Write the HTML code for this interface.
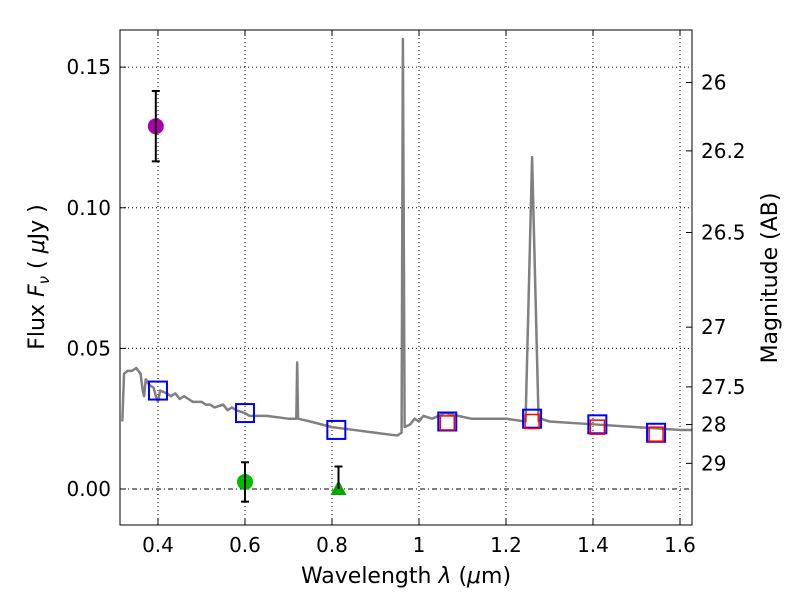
<!DOCTYPE html>
<html><head><meta charset="utf-8"><style>
body{margin:0;background:#fff;font-family:"DejaVu Sans","Liberation Sans",sans-serif}
</style></head><body>
<svg id="c" width="800" height="600" xmlns="http://www.w3.org/2000/svg" font-family="DejaVu Sans, Liberation Sans, sans-serif"></svg>
<script>
const specWave=[0.318,0.322,0.33,0.34,0.35,0.36,0.365,0.368,0.372,0.38,0.39,0.395,0.40,0.405,0.42,0.43,0.44,0.45,0.46,0.47,0.48,0.50,0.51,0.52,0.53,0.55,0.56,0.57,0.58,0.60,0.61,0.62,0.65,0.70,0.718,0.72,0.722,0.75,0.80,0.85,0.90,0.95,0.96,0.963,0.967,0.98,0.99,1.0,1.01,1.03,1.06,1.09,1.12,1.2,1.245,1.26,1.275,1.28,1.3,1.4,1.5,1.6,1.627];
const specFlux=[0.024,0.041,0.042,0.042,0.043,0.041,0.035,0.033,0.039,0.037,0.036,0.033,0.031,0.035,0.034,0.033,0.034,0.032,0.033,0.032,0.031,0.031,0.030,0.030,0.029,0.030,0.028,0.029,0.028,0.027,0.026,0.026,0.026,0.025,0.025,0.045,0.025,0.024,0.022,0.021,0.020,0.019,0.020,0.160,0.022,0.023,0.025,0.024,0.026,0.025,0.027,0.026,0.025,0.025,0.024,0.118,0.024,0.025,0.024,0.023,0.022,0.021,0.021];
const blueWave=[0.40,0.60,0.81,1.065,1.26,1.41,1.545];
const blueFlux=[0.035,0.027,0.021,0.024,0.025,0.023,0.020];
const redWave=[1.065,1.26,1.41,1.545];
const redFlux=[0.0235,0.024,0.022,0.0195];
const photWave=[0.395,0.60,0.815];
const photFlux=[0.129,0.0025,0.0];
const photErrLo=[0.0125,0.007,0.0];
const photErrHi=[0.0125,0.007,0.008];
const xTicks=[0.4,0.6,0.8,1.0,1.2,1.4,1.6];
const xTickLabels=["0.4","0.6","0.8","1","1.2","1.4","1.6"];
const yTicks=[0,0.05,0.10,0.15];
const yTickLabels=["0.00","0.05","0.10","0.15"];
const magTicks=[26,26.2,26.5,27,27.5,28,29];
const magTickLabels=["26","26.2","26.5","27","27.5","28","29"];

const L=120,R=692,T=30,B=525,xmin=0.3127,xmax=1.6276,ymin=-0.0128,ymax=0.1632;
const X=v=>L+(v-xmin)/(xmax-xmin)*(R-L);
const Y=v=>B-(v-ymin)/(ymax-ymin)*(B-T);
const NS="http://www.w3.org/2000/svg";
const svg=document.getElementById('c');
function el(tag,attrs,parent){const e=document.createElementNS(NS,tag);for(const k in attrs)e.setAttribute(k,attrs[k]);(parent||svg).appendChild(e);return e;}
xTicks.forEach((t,i)=>{
 const g=el('line',{x1:X(t),x2:X(t),y1:T,y2:B,stroke:'#000','stroke-width':1,'stroke-dasharray':'1,3'});
 
 
 el('line',{x1:X(t),x2:X(t),y1:B,y2:B-6,stroke:'#000'});
 el('line',{x1:X(t),x2:X(t),y1:T,y2:T+6,stroke:'#000'});
 const tx=el('text',{x:X(t),y:B+27,'font-size':20,'text-anchor':'middle'});tx.textContent=xTickLabels[i];
 
 
});
yTicks.forEach((t,i)=>{
 const g=el('line',{x1:L,x2:R,y1:Y(t),y2:Y(t),stroke:'#000','stroke-width':1,'stroke-dasharray':t===0?'5,3,1,3':'1,3'});
 
 
 el('line',{x1:L,x2:L+6,y1:Y(t),y2:Y(t),stroke:'#000'});
 const tx=el('text',{x:L-9,y:Y(t)+7,'font-size':20,'text-anchor':'end'});tx.textContent=yTickLabels[i];
 
 
});
magTicks.forEach((m,i)=>{
 const f=Math.pow(10,(23.9-m)/2.5);const y=Y(f);
 el('line',{x1:R,x2:R-6,y1:y,y2:y,stroke:'#000'});
 const tx=el('text',{x:R+9,y:y+7,'font-size':20});tx.textContent=magTickLabels[i];
 
 
});
const sp=el('polyline',{points:specWave.map((w,i)=>X(w)+','+Y(specFlux[i])).join(' '),fill:'none',stroke:'#808080','stroke-width':2.5,'stroke-linejoin':'round'});


blueWave.forEach((w,i)=>{
 const r=el('rect',{x:X(w)-9,y:Y(blueFlux[i])-9,width:18,height:18,fill:'none',stroke:'#0000ff','stroke-width':2});
 
 
});
redWave.forEach((w,i)=>{
 const r=el('rect',{x:X(w)-7,y:Y(redFlux[i])-7,width:14,height:14,fill:'none',stroke:'#ff0000','stroke-width':1.5});
 
 
});
const colors=['#aa00aa','#00bb00','#00aa00'];
photWave.forEach((w,i)=>{
 const x=X(w),y=Y(photFlux[i]),y1=Y(photFlux[i]+photErrHi[i]),y2=Y(photFlux[i]-photErrLo[i]);
 let m;
 if(i===2){m=el('polygon',{points:`${x},${y-9} ${x-8},${y+6} ${x+8},${y+6}`,fill:colors[i]});}
 else m=el('circle',{cx:x,cy:y,r:8,fill:colors[i]});
 
 
 const e=el('line',{x1:x,x2:x,y1:y1,y2:y2,stroke:'#000','stroke-width':2});
 
 
 el('line',{x1:x-4,x2:x+4,y1:y1,y2:y1,stroke:'#000','stroke-width':2});
 if(photErrLo[i]>0)el('line',{x1:x-4,x2:x+4,y1:y2,y2:y2,stroke:'#000','stroke-width':2});
});
const fr=el('rect',{x:L,y:T,width:R-L,height:B-T,fill:'none',stroke:'#000','stroke-width':1});


const xl=el('text',{x:406,y:583,'font-size':22,'text-anchor':'middle'});
xl.innerHTML='Wavelength  <tspan font-style="italic">λ</tspan> (<tspan font-style="italic">μ</tspan>m)';


const yl=el('text',{transform:'translate(44,277) rotate(-90)','font-size':22,'text-anchor':'middle'});
yl.innerHTML='Flux  <tspan font-style="italic">F</tspan><tspan font-style="italic" font-size="15" dy="5">ν</tspan><tspan dy="-5">  ( </tspan><tspan font-style="italic">μ</tspan>Jy )';


const yr=el('text',{transform:'translate(777,278) rotate(-90)','font-size':22,'text-anchor':'middle'});
yr.textContent='Magnitude (AB)';


</script>
</body></html>
